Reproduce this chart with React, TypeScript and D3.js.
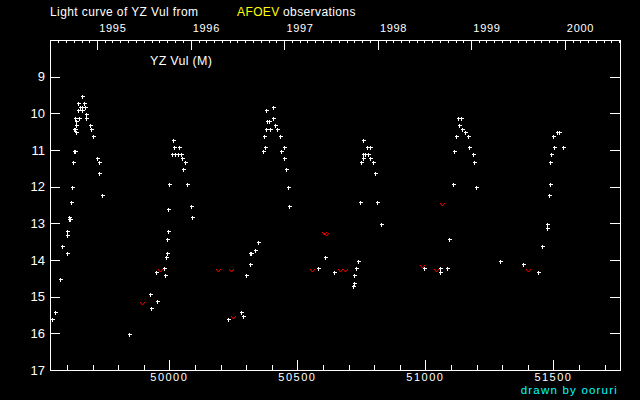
// App.tsx - light curve of YZ Vul (AFOEV)
import React, { useRef, useEffect } from "react";
import * as d3 from "d3";

// visual estimates: [JD - 2400000, magnitude]
const observations: [number, number][] = [
  [49660, 9.54], [49645, 9.73], [49668, 9.73], [49652, 9.84], [49660, 9.84], [49672, 9.84],
  [49645, 9.92], [49660, 9.92], [49676, 10.03], [49633, 10.14], [49648, 10.14], [49676, 10.14],
  [49637, 10.22], [49637, 10.33], [49691, 10.33], [49629, 10.44], [49633, 10.44], [49695, 10.44],
  [49637, 10.52], [49703, 10.63], [49629, 11.04], [49633, 11.04], [49625, 11.34], [49719, 11.23],
  [49727, 11.34], [49727, 11.64], [49621, 12.02], [49738, 12.24], [49617, 12.43], [49609, 12.84],
  [49613, 12.89], [49609, 12.89], [49602, 13.22], [49602, 13.33], [49582, 13.63], [49602, 13.82],
  [49574, 14.53], [49555, 15.43], [49543, 15.62], [49844, 16.03],
  [49926, 14.94], [49953, 15.13], [49930, 15.32], [49949, 14.34], [49980, 14.23], [49984, 14.42],
  [49988, 13.93], [49992, 13.82], [49992, 13.43], [49996, 13.22], [49996, 12.62], [49998, 11.94],
  [50016, 10.74], [50020, 10.93], [50039, 10.93], [50012, 11.12], [50023, 11.12], [50035, 11.12],
  [50047, 11.12], [50051, 11.23], [50060, 11.34], [50055, 11.53], [50070, 11.94], [50086, 12.54],
  [50090, 12.84],
  [50281, 15.43], [50289, 15.53], [50230, 15.62], [50301, 14.42], [50316, 14.12], [50316, 13.82],
  [50320, 13.82], [50336, 13.73], [50348, 13.52],
  [50406, 9.84], [50379, 9.92], [50406, 10.14], [50383, 10.22], [50391, 10.22], [50414, 10.33],
  [50379, 10.44], [50395, 10.44], [50422, 10.44], [50371, 10.63], [50434, 10.63], [50375, 10.93],
  [50367, 11.04], [50449, 10.93], [50437, 11.04], [50449, 11.23], [50457, 11.53], [50465, 12.02],
  [50469, 12.54],
  [50582, 14.23], [50609, 13.93], [50644, 14.34], [50719, 14.72], [50723, 14.63], [50723, 14.42],
  [50730, 14.23], [50738, 14.03],
  [50758, 10.74], [50773, 10.93], [50785, 10.93], [50758, 11.12], [50766, 11.12], [50777, 11.12],
  [50758, 11.23], [50785, 11.23], [50750, 11.34], [50797, 11.34], [50805, 11.64], [50746, 12.43],
  [50812, 12.43], [50828, 13.03],
  [50996, 14.23], [51059, 14.23], [51059, 14.34], [51086, 14.23], [51094, 13.43],
  [51129, 10.14], [51141, 10.14], [51133, 10.33], [51144, 10.44], [51156, 10.52], [51121, 10.63],
  [51168, 10.63], [51172, 10.93], [51113, 11.04], [51184, 11.12], [51191, 11.34], [51109, 11.94],
  [51199, 12.02],
  [51293, 14.03], [51383, 14.12], [51441, 14.34],
  [51515, 10.52], [51523, 10.52], [51500, 10.63], [51504, 10.93], [51539, 10.93], [51492, 11.12],
  [51488, 11.34], [51488, 11.94], [51484, 12.24], [51473, 13.03], [51476, 13.14], [51457, 13.63],
];

// "fainter than" estimates
const fainterThan: [number, number][] = [
  [49895, 15.18], [49965, 14.28], [50191, 14.28], [50242, 14.28], [50250, 15.56], [50559, 14.28],
  [50603, 13.25], [50613, 13.3], [50668, 14.28], [50687, 14.28], [50988, 14.17], [51043, 14.28],
  [51066, 12.47], [51402, 14.28],
];

const magTicks = [9, 10, 11, 12, 13, 14, 15, 16, 17];
const jdLabels = [50000, 50500, 51000, 51500];
const years = [1995, 1996, 1997, 1998, 1999, 2000];

const font = "'Liberation Sans', Arial, sans-serif";

// calendar date -> JD - 2400000
const toJD = (y: number, m: number) => Date.UTC(y, m, 1) / 864e5 + 40587.5;

const App = () => {
  const ref = useRef<SVGSVGElement>(null);

  useEffect(() => {
    drawChart();
  }, []);

  const drawChart = () => {
    const svg = d3.select(ref.current);
    svg.selectAll("*").remove();

    const left = 50, right = 620, top = 40, bottom = 370;

    const x = d3.scaleLinear().domain([49534, 51760]).range([left, right]);
    const y = d3.scaleLinear().domain([8, 17]).range([top, bottom]);

    svg.append("rect").attr("width", 640).attr("height", 400).attr("fill", "black");

    const axes = svg.append("g")
      .attr("stroke", "white")
      .attr("stroke-width", 1)
      .attr("shape-rendering", "crispEdges");

    axes.append("rect")
      .attr("x", left + 0.5).attr("y", top + 0.5)
      .attr("width", right - left).attr("height", bottom - top)
      .attr("fill", "none");

    // magnitude ticks, both sides
    magTicks.forEach((m) => {
      axes.append("line").attr("x1", left).attr("x2", left + 10)
        .attr("y1", Math.round(y(m)) + 0.5).attr("y2", Math.round(y(m)) + 0.5);
      axes.append("line").attr("x1", right - 10).attr("x2", right)
        .attr("y1", Math.round(y(m)) + 0.5).attr("y2", Math.round(y(m)) + 0.5);
      svg.append("text")
        .attr("x", 45).attr("y", y(m)).attr("dy", "0.36em")
        .attr("text-anchor", "end")
        .attr("font-family", font).attr("font-size", 13)
        .attr("fill", "white")
        .text(m);
    });

    // JD ticks along the bottom
    d3.range(49600, 51800, 100).forEach((jd) => {
      const major = jd % 500 === 0;
      const px = Math.round(x(jd)) + 0.5;
      axes.append("line").attr("x1", px).attr("x2", px)
        .attr("y1", bottom).attr("y2", bottom - (major ? 10 : 5));
    });
    jdLabels.forEach((jd) => {
      svg.append("text")
        .attr("x", x(jd)).attr("y", 381)
        .attr("text-anchor", "middle")
        .attr("font-family", font).attr("font-size", 11)
        .attr("letter-spacing", 1.5)
        .attr("fill", "white")
        .text(jd);
    });

    // calendar ticks along the top: months, years
    for (let yr = 1994; yr <= 2000; yr++) {
      for (let mo = 0; mo < 12; mo++) {
        const jd = toJD(yr, mo);
        if (jd < 49534 || jd > 51760) continue;
        const px = Math.round(x(jd)) + 0.5;
        axes.append("line").attr("x1", px).attr("x2", px)
          .attr("y1", top).attr("y2", top + (mo === 0 ? 10 : 3));
      }
    }
    years.forEach((yr) => {
      svg.append("text")
        .attr("x", x(toJD(yr, 0)) + 2).attr("y", 32)
        .attr("font-family", font).attr("font-size", 11)
        .attr("letter-spacing", 0.7)
        .attr("fill", "white")
        .text(yr);
    });

    // observations
    svg.append("g")
      .attr("stroke", "white").attr("shape-rendering", "crispEdges")
      .selectAll("path")
      .data(observations)
      .join("path")
      .attr("transform", (d) => `translate(${Math.round(x(d[0])) + 0.5},${Math.round(y(d[1])) + 0.5})`)
      .attr("d", "M-2,0H2M0,-2V2");

    svg.append("g")
      .attr("stroke", "red").attr("fill", "none")
      .selectAll("path")
      .data(fainterThan)
      .join("path")
      .attr("transform", (d) => `translate(${Math.round(x(d[0])) + 0.5},${Math.round(y(d[1])) + 0.5})`)
      .attr("d", "M-2.5,-1.5L0,1.5L2.5,-1.5");

    // titles
    const title = svg.append("text")
      .attr("x", 50).attr("y", 16)
      .attr("font-family", font).attr("font-size", 12)
      .attr("letter-spacing", 0.4)
      .attr("fill", "white");
    title.append("tspan").text("Light curve of YZ Vul from");
    title.append("tspan").attr("x", 237).attr("fill", "yellow").text("AFOEV");
    title.append("tspan").attr("x", 283).text("observations");

    svg.append("text")
      .attr("x", 150).attr("y", 65)
      .attr("font-family", font).attr("font-size", 12.5)
      .attr("letter-spacing", 0.3)
      .attr("fill", "white")
      .text("YZ Vul (M)");

    svg.append("text")
      .attr("x", 618).attr("y", 394)
      .attr("text-anchor", "end")
      .attr("font-family", font).attr("font-size", 11.5)
      .attr("letter-spacing", 1.2)
      .attr("fill", "cyan")
      .text("drawn by ooruri");
  };

  return (
    <div style={{ position: "absolute", left: 0, top: 0 }}>
      <svg ref={ref} width={640} height={400} style={{ display: "block" }}></svg>
    </div>
  );
};

export default App;
